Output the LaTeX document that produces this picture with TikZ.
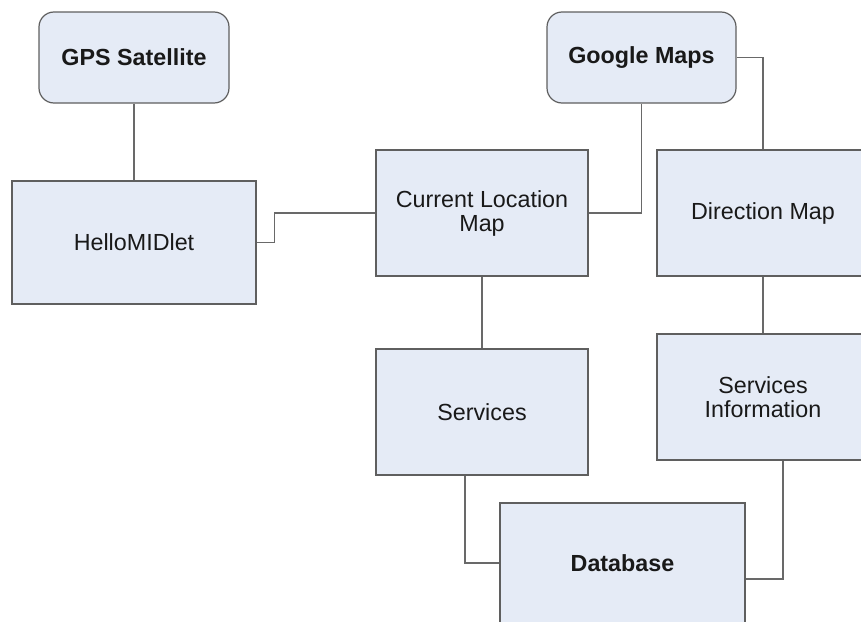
\documentclass[tikz,border=0pt]{standalone}
\usepackage{fontspec}
\setmainfont{Liberation Sans}
\usepackage{xcolor}
\usetikzlibrary{positioning,calc}

\definecolor{boxfill}{RGB}{229,235,246}
\definecolor{boxline}{RGB}{95,95,95}
\definecolor{wire}{RGB}{105,105,105}
\definecolor{ink}{RGB}{25,25,25}

\begin{document}
\begin{tikzpicture}[x=1pt, y=-1pt,
		block/.style={draw=boxline, fill=boxfill, line width=1.2pt, align=center, inner sep=0pt,
			text=ink, font=\fontsize{23.3}{24}\selectfont},
		roundblock/.style={block, rounded corners=15pt, font=\fontsize{23.3}{24}\selectfont\bfseries},
		link/.style={draw=wire, line width=1.2pt}]
		\useasboundingbox (0,0) rectangle (861,621);
		\clip (0,0) rectangle (861,621);

		% top row
		\node[roundblock, minimum width=190pt, minimum height=91pt] (gps) at (134,57.5) {GPS Satellite};
		\node[roundblock, minimum width=189pt, minimum height=91pt] (gmaps) at (641.5,57.5) {Google Maps};

		% middle row
		\node[block, minimum width=244pt, minimum height=123pt] (hello) at (134,242.5) {HelloMIDlet};
		\node[block, minimum width=212pt, minimum height=126pt] (curloc) at (482,213) {Current Location\\Map};
		\node[block, minimum width=212pt, minimum height=126pt] (dirmap) at (763,213) {Direction Map};

		% lower rows
		\node[block, minimum width=212pt, minimum height=126pt] (services) at (482,412) {Services};
		\node[block, minimum width=212pt, minimum height=126pt] (svcinfo) at (763,397) {Services\\Information};
		\node[block, minimum width=245pt, minimum height=120pt, font=\fontsize{23.3}{24}\selectfont\bfseries] (db) at (622.5,563) {Database};

		% connectors
		\draw[link] (gps) -- (hello);
		\draw[link] (hello.east) -- ++(18,0) |- (curloc.west);
		\draw[link] (gmaps.south) |- (curloc.east);
		\draw[link] (gmaps.east) -| (dirmap.north);
		\draw[link] (curloc) -- (services);
		\draw[link] (dirmap) -- (svcinfo);
		\draw[link] ($(services.south)+(-17,0)$) |- (db.west);
		\draw[link] ($(svcinfo.south)+(20,0)$) |- ($(db.east)+(0,16)$);
	\end{tikzpicture}
\end{document}
